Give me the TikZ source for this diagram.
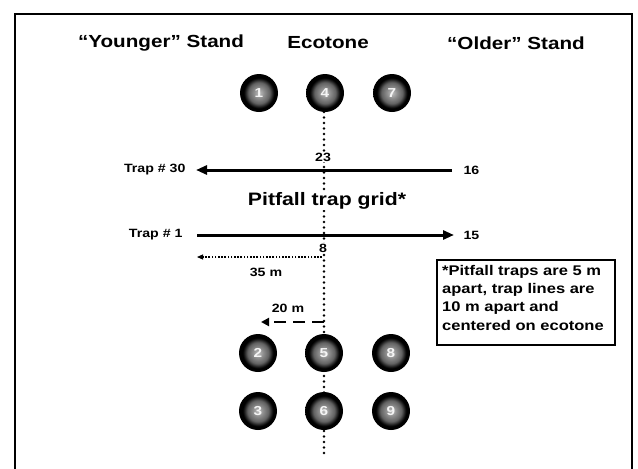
\documentclass[tikz,border=0pt]{standalone}
\usepackage{fontspec}
\setmainfont{Liberation Sans}[FakeStretch=1.18]
\usetikzlibrary{arrows.meta}
\pgfdeclareradialshading{trapball}{\pgfpointorigin}{color(0bp)=(black!25); color(7bp)=(black!45); color(14bp)=(black!62); color(18bp)=(black!88); color(20bp)=(black); color(50bp)=(black)}
\begin{document}
\begin{tikzpicture}[x=1pt,y=-1pt,
  trapnode/.style={circle, minimum size=38pt, inner sep=0pt, shading=trapball,
    font=\bfseries\fontsize{13}{13}\selectfont, text=white!92!gray},
  titletext/.style={font=\bfseries\fontsize{17.5}{18}\selectfont},
  gridtext/.style={font=\bfseries\fontsize{18}{20}\selectfont, fill=white, inner sep=1pt},
  smalllabel/.style={font=\bfseries\fontsize{12}{12}\selectfont},
  masklabel/.style={smalllabel, fill=white, inner sep=0.5pt},
  notetext/.style={font=\bfseries\fontsize{14}{18.3}\selectfont, align=left, inner sep=0pt},
  trapline/.style={line width=3pt, -{Triangle[length=11pt,width=9pt]}},
  ecoline/.style={line width=2.8pt, dash pattern=on 0pt off 5.5pt, line cap=round},
  dimline/.style={line width=1.1pt, dash pattern=on 1.6pt off 1.6pt, -{Triangle[length=6pt,width=5pt]}},
  dashline/.style={line width=2.6pt, dash pattern=on 12pt off 7pt, -{Triangle[length=8pt,width=8pt]}},
  framestyle/.style={line width=2.4pt}
]
\useasboundingbox (0,0) rectangle (638,469);
\fill[white] (0,0) rectangle (638,469);
% frame
\draw[framestyle] (15,469) -- (15,14) -- (632,14) -- (632,469);
% titles
\node[titletext] (young) at (161,43) {“Younger” Stand};
\node[titletext] (eco) at (328,43) {Ecotone};
\node[titletext] (old) at (516,43) {“Older” Stand};
% coordinates
\coordinate (ecoend) at (324,455);
% ecotone dotted line (behind circles and labels)
\coordinate (ecotop) at (324,112);
\draw[ecoline] (ecotop) -- (ecoend);
% circles
\node[trapnode] (c1) at (259,93) {1};
\node[trapnode] (c4) at (325,93) {4};
\node[trapnode] (c7) at (392,93) {7};
\node[trapnode] (c2) at (258,353) {2};
\node[trapnode] (c5) at (324,353) {5};
\node[trapnode] (c8) at (391,353) {8};
\node[trapnode] (c3) at (258,411) {3};
\node[trapnode] (c6) at (324,411) {6};
\node[trapnode] (c9) at (391,411) {9};
% trap line 30
\coordinate (t30r) at (452,170);
\coordinate (t30l) at (196,170);
\draw[trapline] (t30r) -- (t30l);
\node[smalllabel, anchor=east] (lab30) at (189,170) {Trap \# 30};
\node[smalllabel, anchor=west] (lab16) at (460,170) {16};
\node[masklabel] (lab23) at (323,157) {23};
% grid label
\node[gridtext] (grid) at (327,201) {Pitfall trap grid*};
% trap line 1
\coordinate (t1l) at (197,235);
\coordinate (t1r) at (454,235);
\draw[trapline] (t1l) -- (t1r);
\node[smalllabel, anchor=east] (lab1) at (186,235) {Trap \# 1};
\node[smalllabel, anchor=west] (lab15) at (460,235) {15};
\node[masklabel] (lab8) at (323,248) {8};
% 35 m
\coordinate (d35r) at (322,257);
\coordinate (d35l) at (197,257);
\draw[dimline] (d35r) -- (d35l);
\node[smalllabel] (lab35) at (266,272) {35 m};
% 20 m
\coordinate (d20r) at (324,322);
\coordinate (d20l) at (261,322);
\draw[dashline] (d20r) -- (d20l);
\node[smalllabel] (lab20) at (288,308) {20 m};
% note box
\node[draw, line width=1.6pt, minimum width=178pt, minimum height=85pt, inner sep=0pt, anchor=north west] (note) at (436,259) {};
\node[notetext, anchor=north west] (notetxt) at (442,265) {*Pitfall traps are 5 m\\apart, trap lines are\\10 m apart and\\centered on ecotone};
\end{tikzpicture}
\end{document}
